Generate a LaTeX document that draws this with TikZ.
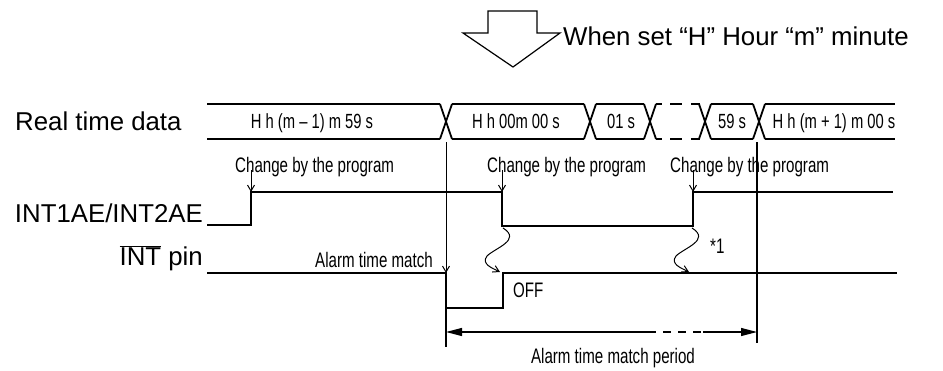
\documentclass[tikz,border=0pt]{standalone}
\usepackage{fontspec}
\setmainfont{Liberation Sans}
\newfontfamily\narrowfont[FakeStretch=0.72]{Liberation Sans}
\usetikzlibrary{arrows.meta,calc,positioning}
\tikzset{
    big label/.style = {
        font=\fontsize{25.8}{30}\selectfont,
        inner sep=0pt,
        },
    small label/.style = {
        font=\narrowfont\fontsize{21}{24}\selectfont,
        inner sep=0pt,
        },
    bus label/.style = {
        font=\narrowfont\fontsize{20.5}{24}\selectfont,
        inner sep=0pt,
        },
    signal/.style = {
        line width=2pt,
        line join=miter,
        },
    bus line/.style = {
        line width=1.8pt,
        },
    marker/.style = {
        line width=1.2pt,
        },
    change arrow/.style = {
        line width=1pt,
        -{Straight Barb[length=6pt,width=7pt]},
        },
    period arrow/.style = {
        line width=1.2pt,
    },
    big arrow/.style = {
        line width=1.2pt,
        line join=miter,
    }
}
\begin{document}
\begin{tikzpicture}[x=1pt,y=-1pt]
    \useasboundingbox (0,0) rectangle (943,370);

    % hollow arrow and heading
    \draw[big arrow] (488,11) -- (537,11) -- (537,33) -- (560,33) -- (513,67)
        -- (463,33) -- (488,33) -- cycle;
    \node[big label,anchor=base west] (head) at (563,45) {When set “H” Hour “m” minute};

    % row labels
    \node[big label,anchor=base west] (rtd) at (15,130) {Real time data};
    \node[big label,anchor=base east] (ae) at (203,222) {INT1AE/INT2AE};
    \node[big label,anchor=base east] (intpin) at (203,265) {$\overline{\mbox{INT}}$ pin};

    % real time data bus
    \foreach \a/\b in {207/440, 452/584, 596/644, 711/753, 765/895}{
        \draw[bus line] (\a,104) -- (\b,104);
        \draw[bus line] (\a,139) -- (\b,139);
    }
    \draw[bus line,dash pattern=on 6pt off 8pt on 12pt off 9pt on 12pt] (656,104) -- (700,104);
    \draw[bus line,dash pattern=on 6pt off 8pt on 12pt off 9pt on 12pt] (656,139) -- (700,139);
    \foreach \c in {446, 590, 650, 705, 759}{
        \draw[bus line] (\c-6,104) -- (\c+6,139);
        \draw[bus line] (\c-6,139) -- (\c+6,104);
    }
    \node[bus label,anchor=base] (d0) at (312,128) {H h (m – 1) m 59 s};
    \node[bus label,anchor=base] (d1) at (516,128) {H h 00m 00 s};
    \node[bus label,anchor=base] (d2) at (621,128) {01 s};
    \node[bus label,anchor=base] (d3) at (732,128) {59 s};
    \node[bus label,anchor=base] (d4) at (834,128) {H h (m + 1) m 00 s};

    % INT1AE/INT2AE
    \coordinate (ae0) at (207,225);
    \coordinate (ae1) at (251,192);
    \coordinate (ae2) at (502,226);
    \coordinate (ae3) at (693,192);
    \coordinate (ae4) at (893,192);
    \draw[signal] (ae0) -| (ae1) -| (ae2) -| (ae3) -- (ae4);

    % INT pin
    \coordinate (int0) at (207,273);
    \coordinate (int1) at (446,308);
    \coordinate (int2) at (503,273);
    \coordinate (int3) at (897,273);
    \draw[signal] (int0) -| (int1) -| (int2) -- (int3);

    % changes by the program
    \foreach \x/\t in {251/235, 502/487, 693/670}{
        \node[small label,anchor=base west] (chg\x) at (\t,172) {Change by the program};
        \draw[change arrow] (\x,170) -- (\x,192);
    }

    % alarm time match
    \coordinate (m0) at (446,142);
    \coordinate (m1) at (446,273);
    \coordinate (m2) at (446,347);
    \coordinate (n0) at (757,142);
    \coordinate (n1) at (757,343);
    \draw[marker,change arrow] (m0) -- (m1);
    \draw[marker] (m1) -- (m2);
    \draw[marker] (n0) -- (n1);
    \node[small label,anchor=base east] (match) at (433,267) {Alarm time match};

    % wavy delays
    \foreach \s in {0,189}{
        \draw[change arrow] (503+\s,228) .. controls (522+\s,240) and (495+\s,248) .. (487+\s,256)
            .. controls (481+\s,264) and (492+\s,268) .. (500+\s,272);
    }
    \node[small label,anchor=base west] (note) at (710,253) {*1};
    \node[small label,anchor=base west] (off) at (513,297) {OFF};

    % alarm time match period
    \coordinate (p0) at (446,332);
    \coordinate (p1) at (648,332);
    \coordinate (p2) at (703,332);
    \coordinate (p3) at (757,332);
    \draw[period arrow,{Triangle[length=16pt,width=8pt]}-] (p0) -- (p1);
    \draw[period arrow,dash pattern=on 8pt off 7pt] (p1) -- (p2);
    \draw[period arrow,-{Triangle[length=16pt,width=8pt]}] (p2) -- (p3);
    \node[small label,anchor=base] (period) at (613,363) {Alarm time match period};
\end{tikzpicture}
\end{document}
